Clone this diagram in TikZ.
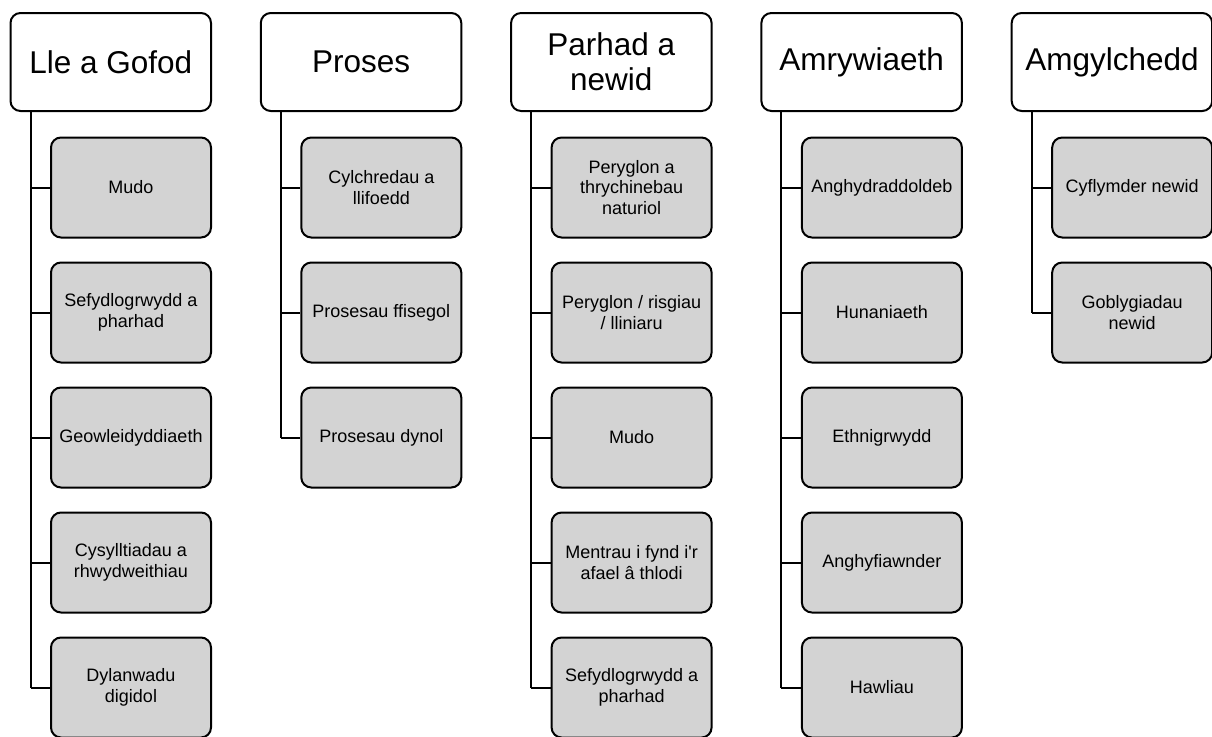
\documentclass[tikz,border=0pt]{standalone}
\usepackage{fontspec}
\setmainfont{Liberation Sans}
\usetikzlibrary{calc}
\definecolor{childfill}{RGB}{211,211,211}
\tikzset{
  headbox/.style={draw=black, line width=2pt, fill=white, rounded corners=10pt,
    minimum width=200.5pt, minimum height=98pt, inner sep=0pt, align=center,
    font=\fontsize{31.5}{35}\selectfont},
  childbox/.style={draw=black, line width=2pt, fill=childfill, rounded corners=10pt,
    minimum width=160pt, minimum height=100pt, inner sep=0pt, align=center,
    font=\fontsize{18}{20.5}\selectfont},
  treeline/.style={draw=black, line width=2pt},
}
\begin{document}
\begin{tikzpicture}[x=1pt,y=-1pt]
\useasboundingbox (0,0) rectangle (1212,736);
% headers
\node[headbox] (h0) at (110.75,62) {Lle a Gofod};
\node[headbox] (h1) at (361.05,62) {Proses};
\node[headbox] (h2) at (611.35,62) {Parhad a\\newid};
\node[headbox] (h3) at (861.65,62) {Amrywiaeth};
\node[headbox] (h4) at (1111.95,62) {Amgylchedd};
\foreach \i in {0,...,4}{\coordinate (t\i) at ($(h\i.south west)+(21,0)$);}
% column 0
\node[childbox] (c0-0) at (131,187.5) {Mudo};
\node[childbox] (c0-1) at (131,312.5) {Sefydlogrwydd a\\pharhad};
\node[childbox] (c0-2) at (131,437.5) {Geowleidyddiaeth};
\node[childbox] (c0-3) at (131,562.5) {Cysylltiadau a\\rhwydweithiau};
\node[childbox] (c0-4) at (131,687.5) {Dylanwadu\\digidol};
% column 1
\node[childbox] (c1-0) at (381.3,187.5) {Cylchredau a\\llifoedd};
\node[childbox] (c1-1) at (381.3,312.5) {Prosesau ffisegol};
\node[childbox] (c1-2) at (381.3,437.5) {Prosesau dynol};
% column 2
\node[childbox] (c2-0) at (631.6,187.5) {Peryglon a\\thrychinebau\\naturiol};
\node[childbox] (c2-1) at (631.6,312.5) {Peryglon / risgiau\\/ lliniaru};
\node[childbox] (c2-2) at (631.6,437.5) {Mudo};
\node[childbox] (c2-3) at (631.6,562.5) {Mentrau i fynd i\textquotesingle r\\afael â thlodi};
\node[childbox] (c2-4) at (631.6,687.5) {Sefydlogrwydd a\\pharhad};
% column 3
\node[childbox] (c3-0) at (881.9,187.5) {Anghydraddoldeb};
\node[childbox] (c3-1) at (881.9,312.5) {Hunaniaeth};
\node[childbox] (c3-2) at (881.9,437.5) {Ethnigrwydd};
\node[childbox] (c3-3) at (881.9,562.5) {Anghyfiawnder};
\node[childbox] (c3-4) at (881.9,687.5) {Hawliau};
% column 4
\node[childbox] (c4-0) at (1132.2,187.5) {Cyflymder newid};
\node[childbox] (c4-1) at (1132.2,312.5) {Goblygiadau\\newid};
% tree connectors
\foreach \i/\n in {0/4,1/2,2/4,3/4,4/1}{
  \foreach \j in {0,...,\n}{
    \draw[treeline] (t\i |- c\i-\j.west) -- (c\i-\j.west);
  }
  \draw[treeline] (t\i) -- (t\i |- c\i-\n.west);
}
\end{tikzpicture}
\end{document}
